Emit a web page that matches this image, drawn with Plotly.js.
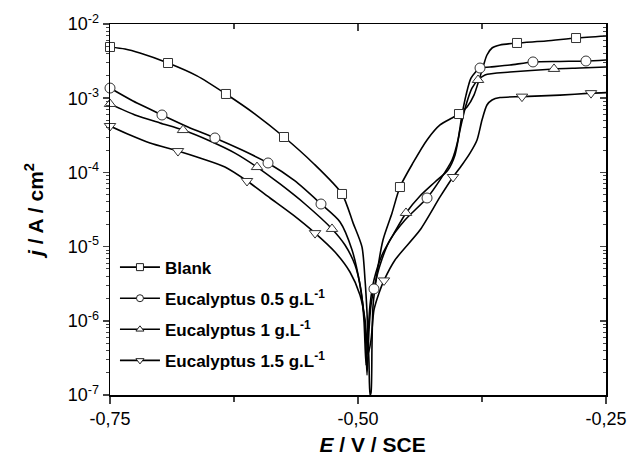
<!DOCTYPE html>
<html>
<head>
<meta charset="utf-8">
<script src="https://cdn.plot.ly/plotly-3.0.1.min.js"></script>
<style>html,body{margin:0;padding:0;background:#fff;}#chart{width:629px;height:456px;}</style>
</head>
<body>
<div id="chart"></div>
<script>
// Potential (V vs SCE) and current density (A/cm2)
var blankE = [-0.750,-0.7349,-0.7198,-0.6915,-0.6623,-0.6331,-0.6038,-0.5746,-0.5454,-0.5161,-0.5050,-0.4960,-0.4929,-0.4909,-0.4889,-0.4879,
  -0.4869,-0.4859,-0.4849,-0.4808,-0.4748,-0.4657,-0.4577,-0.4446,-0.4304,-0.4173,-0.4052,-0.3982,-0.3901,-0.3831,-0.3780,-0.3740,-0.3700,-0.3649,-0.3569,-0.3397,-0.3105,-0.2802,-0.2500];
var blankJ = [4.9e-3,4.6e-3,4.06e-3,2.98e-3,2.0e-3,1.14e-3,6.12e-4,3.0e-4,1.34e-4,5.12e-5,2.09e-5,9.9e-6,3.55e-6,1.27e-6,2.7e-7,1.0e-7,
  1.07e-7,4.5e-7,1.55e-6,4.4e-6,1.23e-5,2.84e-5,6.35e-5,1.34e-4,2.74e-4,4.36e-4,5.41e-4,6.12e-4,7.6e-4,1.10e-3,1.76e-3,2.63e-3,3.82e-3,4.75e-3,5.21e-3,5.55e-3,5.9e-3,6.47e-3,6.89e-3];
var blankMarkE = [-0.75,-0.6915,-0.6331,-0.5746,-0.5161,-0.4577,-0.3982,-0.3397,-0.2802];
var blankMarkJ = [4.9e-3,2.98e-3,1.14e-3,3.0e-4,5.12e-5,6.35e-5,6.12e-4,5.55e-3,6.47e-3];

var euc05E = [-0.750,-0.7268,-0.6976,-0.6714,-0.6442,-0.6169,-0.5907,-0.5635,-0.5373,-0.5181,-0.5060,-0.4980,-0.4929,-0.4909,
  -0.4889,-0.4869,-0.4839,-0.4778,-0.4677,-0.4526,-0.4304,-0.4173,-0.4052,-0.3992,-0.3952,-0.3911,-0.3861,-0.3770,-0.3669,-0.3468,-0.3236,-0.2964,-0.2702,-0.2500];
var euc05J = [1.37e-3,9.16e-4,5.94e-4,4.09e-4,2.91e-4,2.0e-4,1.34e-4,7.66e-5,3.75e-5,2.15e-5,9.0e-6,3.04e-6,8.8e-7,1.86e-7,
  7.5e-7,1.63e-6,2.69e-6,5.65e-6,1.23e-5,2.28e-5,4.52e-5,7.94e-5,1.47e-4,2.74e-4,5.94e-4,1.10e-3,1.87e-3,2.55e-3,2.63e-3,2.80e-3,3.08e-3,3.13e-3,3.17e-3,3.27e-3];
var euc05MarkE = [-0.75,-0.6976,-0.6442,-0.5907,-0.5373,-0.4839,-0.4304,-0.3770,-0.3236,-0.2702];
var euc05MarkJ = [1.37e-3,5.94e-4,2.91e-4,1.34e-4,3.75e-5,2.69e-6,4.52e-5,2.55e-3,3.08e-3,3.17e-3];

var euc1E = [-0.750,-0.7248,-0.6996,-0.6764,-0.6492,-0.6240,-0.6018,-0.5786,-0.5534,-0.5262,-0.5131,-0.5030,-0.4970,-0.4940,-0.4919,
  -0.4899,-0.4879,-0.4839,-0.4758,-0.4647,-0.4516,-0.4375,-0.4224,-0.4093,-0.4022,-0.3972,-0.3911,-0.3851,-0.3790,-0.3720,-0.3468,-0.3024,-0.2762,-0.2500];
var euc1J = [8.36e-4,5.94e-4,4.63e-4,3.72e-4,2.65e-4,1.82e-4,1.18e-4,6.98e-5,3.75e-5,1.73e-5,1.05e-5,5.65e-6,2.6e-6,1.03e-6,2.54e-7,
  6.46e-7,1.63e-6,3.55e-6,7.71e-6,1.43e-5,2.84e-5,4.81e-5,7.43e-5,1.08e-4,1.72e-4,3.72e-4,8.09e-4,1.37e-3,1.76e-3,2.06e-3,2.25e-3,2.48e-3,2.55e-3,2.63e-3];
var euc1MarkE = [-0.75,-0.6764,-0.6018,-0.5262,-0.4516,-0.3790,-0.3024];
var euc1MarkJ = [8.36e-4,3.72e-4,1.18e-4,1.73e-5,2.84e-5,1.76e-3,2.48e-3];

var euc15E = [-0.750,-0.7298,-0.7097,-0.6815,-0.6593,-0.6341,-0.6119,-0.5887,-0.5655,-0.5433,-0.5232,-0.5081,-0.4980,-0.4929,-0.4899,
  -0.4869,-0.4839,-0.4788,-0.4738,-0.4627,-0.4375,-0.4173,-0.4042,-0.3952,-0.3871,-0.3800,-0.3750,-0.3700,-0.3649,-0.3569,-0.3347,-0.2964,-0.2651,-0.2500];
var euc15J = [4.22e-4,3.19e-4,2.49e-4,1.94e-4,1.56e-4,1.18e-4,7.66e-5,4.52e-5,2.67e-5,1.52e-5,8.45e-6,4.55e-6,2.23e-6,1.03e-6,3.55e-7,
  5.5e-7,1.4e-6,2.37e-6,3.5e-6,6.6e-6,1.67e-5,4.67e-5,8.67e-5,1.26e-4,1.82e-4,2.74e-4,5.08e-4,8.09e-4,9.46e-4,1.02e-3,1.05e-3,1.10e-3,1.17e-3,1.19e-3];
var euc15MarkE = [-0.75,-0.6815,-0.6119,-0.5433,-0.4738,-0.4042,-0.3347,-0.2651];
var euc15MarkJ = [4.22e-4,1.94e-4,7.66e-5,1.52e-5,3.5e-6,8.67e-5,1.05e-3,1.17e-3];

var seriesNames = ['<b>Blank</b>','<b>Eucalyptus 0.5 g.L<sup>-1</sup></b>','<b>Eucalyptus 1 g.L<sup>-1</sup></b>','<b>Eucalyptus 1.5 g.L<sup>-1</sup></b>'];
var symbols = ['square','circle','triangle-up','triangle-down'];

var xTickVals = [-0.75,-0.50,-0.25];
var xTickText = ['-0,75','-0,50','-0,25'];
var yTickVals = [1e-7,1e-6,1e-5,1e-4,1e-3,1e-2];
var yTickText = ['10<sup>-7</sup>','10<sup>-6</sup>','10<sup>-5</sup>','10<sup>-4</sup>','10<sup>-3</sup>','10<sup>-2</sup>'];

var curves = [[blankE,blankJ,blankMarkE,blankMarkJ],[euc05E,euc05J,euc05MarkE,euc05MarkJ],[euc1E,euc1J,euc1MarkE,euc1MarkJ],[euc15E,euc15J,euc15MarkE,euc15MarkJ]];
var data = [];
curves.forEach(function(c, i){
  data.push({x:c[0], y:c[1], mode:'lines', line:{color:'#000', width:1.6, shape:'spline', smoothing:0.7}, showlegend:false, hoverinfo:'skip'});
});
curves.forEach(function(c, i){
  data.push({x:c[2], y:c[3], mode:'markers', marker:{symbol:symbols[i], size:(i===0?9:10), color:'#fff', line:{color:'#333', width:1}}, showlegend:false, cliponaxis:false});
});
curves.forEach(function(c, i){
  data.push({x:[null], y:[null], xaxis:'x2', yaxis:'y2', mode:'lines+markers', name:seriesNames[i], legendgroup:'g'+i,
    line:{color:'#000', width:1.6}, marker:{symbol:symbols[i], size:7, color:'#fff', line:{color:'#222', width:1}}});
});

var fam = 'Liberation Sans, Arial, sans-serif';
var tickFont = {family:fam, size:18, color:'#000'};
var layout = {
  width:629, height:456,
  margin:{l:110, r:23, t:24, b:61},
  paper_bgcolor:'#fff', plot_bgcolor:'#fff',
  showlegend:true,
  legend:{x:0.010, y:0.392, xanchor:'left', yanchor:'top', bgcolor:'rgba(0,0,0,0)', borderwidth:0,
    font:{family:fam, size:17, color:'#000'}, tracegroupgap:6, traceorder:'grouped', itemwidth:40},
  xaxis:{range:[-0.75,-0.25], tickmode:'array', tickvals:xTickVals, ticktext:xTickText, ticks:'outside', ticklen:7, tickwidth:1.5,
    showline:true, linewidth:1.5, linecolor:'#000', showgrid:false, zeroline:false, tickfont:tickFont,
    minor:{dtick:0.125, tick0:0, ticks:'outside', ticklen:5, tickwidth:1.5, showgrid:false},
    title:{text:'&nbsp;&nbsp;&nbsp;&nbsp;&nbsp;<b><i>E</i> / V / SCE</b>', font:{family:fam, size:21, color:'#000'}, standoff:14}},
  yaxis:{type:'log', range:[-7,-2], tickmode:'array', tickvals:yTickVals, ticktext:yTickText, ticks:'outside', ticklen:6, tickwidth:1.5,
    showline:true, linewidth:1.5, linecolor:'#000', showgrid:false, zeroline:false, tickfont:tickFont,
    minor:{dtick:'D1', ticks:'outside', ticklen:3, tickwidth:1, showgrid:false},
    title:{text:'<b><i>j</i> / A / cm<sup>2</sup></b>', font:{family:fam, size:21, color:'#000'}, standoff:18}},
  xaxis2:{overlaying:'x', side:'top', anchor:'y2', range:[-0.75,-0.25], tickmode:'array', tickvals:xTickVals, ticks:'inside', ticklen:7, tickwidth:1.5,
    showticklabels:false, showline:true, linewidth:1.5, linecolor:'#000', showgrid:false, zeroline:false,
    minor:{dtick:0.125, tick0:0, ticks:'inside', ticklen:5, tickwidth:1.5, showgrid:false}},
  yaxis2:{overlaying:'y', side:'right', anchor:'x2', type:'log', range:[-7,-2], tickmode:'array', tickvals:yTickVals, ticks:'inside', ticklen:6, tickwidth:1.5,
    showticklabels:false, showline:true, linewidth:1.5, linecolor:'#000', showgrid:false, zeroline:false,
    minor:{dtick:'D1', ticks:'inside', ticklen:3, tickwidth:1, showgrid:false}}
};
Plotly.newPlot('chart', data, layout, {displayModeBar:false, staticPlot:true});
</script>
</body>
</html>
